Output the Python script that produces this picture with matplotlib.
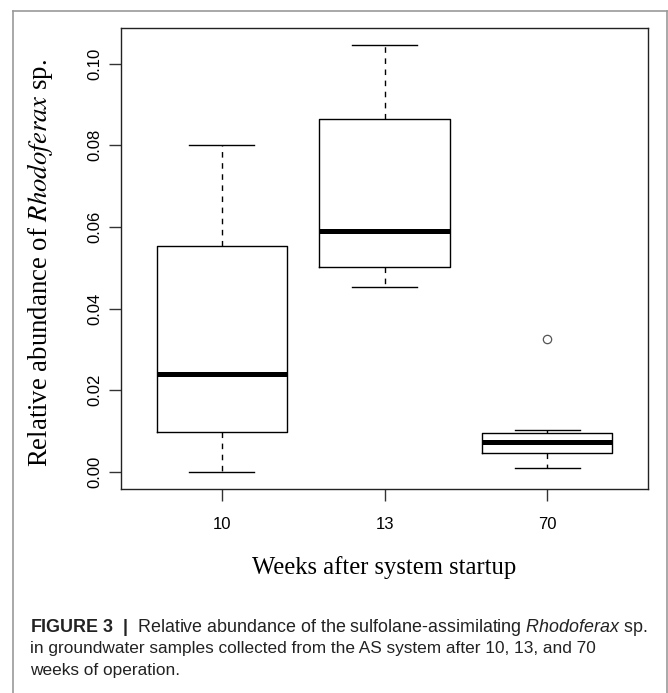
import matplotlib
matplotlib.use("Agg")
import matplotlib.pyplot as plt
from matplotlib.lines import Line2D

# box statistics
weeks = ["10", "13", "70"]
whislo = [0.0000, 0.0453, 0.0010]
q1 = [0.0098, 0.0502, 0.0046]
med = [0.0240, 0.0589, 0.0073]
q3 = [0.0553, 0.0863, 0.0094]
whishi = [0.0800, 0.1045, 0.0103]
fliers = [[], [], [0.0326]]

yticks = [0.00, 0.02, 0.04, 0.06, 0.08, 0.10]

cap_font = "Liberation Sans"
plt.rcParams["mathtext.it"] = cap_font + ":italic"
plt.rcParams["mathtext.bf"] = cap_font + ":bold"
plt.rcParams["mathtext.rm"] = cap_font

W, H = 668, 693
fig = plt.figure(figsize=(W / 100, H / 100), dpi=100)
ax = fig.add_axes([121 / W, 1 - 489 / H, (648 - 121) / W, (489 - 28) / H])

stats = []
for i in range(len(weeks)):
    stats.append({"whislo": whislo[i], "q1": q1[i], "med": med[i], "q3": q3[i],
                  "whishi": whishi[i], "fliers": fliers[i], "label": weeks[i]})

ax.bxp(stats, positions=[1, 2, 3], widths=0.8, showfliers=True,
       boxprops=dict(color="black", linewidth=1.0),
       medianprops=dict(color="black", linewidth=3.6, solid_capstyle="butt"),
       whiskerprops=dict(color="black", linewidth=1.0, linestyle=(0, (4, 4))),
       capprops=dict(color="black", linewidth=1.0),
       capwidths=0.4,
       flierprops=dict(marker="o", markersize=6, markerfacecolor="none",
                       markeredgecolor="#555555", markeredgewidth=0.9))

ax.set_xlim(0.38, 3.62)
ax.set_ylim(-0.0042, 0.1087)
ax.set_yticks(yticks)
ax.set_yticklabels(["%.2f" % v for v in yticks], rotation=90, va="center",
                   family="Liberation Sans", fontsize=12)
ax.set_xticks([1, 2, 3])
ax.set_xticklabels(weeks, family="Liberation Sans", fontsize=12)
ax.tick_params(axis="both", length=8.6, width=1.0, color="#333333")
ax.tick_params(axis="x", pad=11.5)
ax.tick_params(axis="y", pad=5)
for s in ax.spines.values():
    s.set_linewidth(1.0)
    s.set_color("#222222")

# axis titles (Times-like)
fig.text(384.5 / W, 1 - 568 / H, "Weeks after system startup", ha="center", va="center",
         family="Liberation Serif", fontsize=17.7)
fig.text(40 / W, 1 - 263 / H, r"Relative abundance of $\it{Rhodoferax}$ sp.",
         ha="center", va="center", rotation=90, family="Liberation Serif", fontsize=19.3,
         math_fontfamily="stix")

# outer frame
frame_c = "#9a9a9a"
fig.add_artist(Line2D([13 / W, 13 / W], [0, 1 - 11 / H], transform=fig.transFigure, color=frame_c, lw=1.2))
fig.add_artist(Line2D([13 / W, 667 / W], [1 - 11 / H, 1 - 11 / H], transform=fig.transFigure, color=frame_c, lw=1.2))
fig.add_artist(Line2D([667 / W, 667 / W], [0, 1 - 11 / H], transform=fig.transFigure, color=frame_c, lw=1.2))

# caption
cap_lines = [
    r"$\mathbf{FIGURE\ 3\ \ |}$  Relative abundance of the sulfolane-assimilating $\mathit{Rhodoferax}$ sp.",
    "in groundwater samples collected from the AS system after 10, 13, and 70",
    "weeks of operation.",
]
cap_y = [627, 649, 670]
cap_sizes = [12.9, 12.4, 12.4]
for line, y, fs in zip(cap_lines, cap_y, cap_sizes):
    fig.text(30 / W, 1 - y / H, line, ha="left", va="center", family=cap_font,
             fontsize=fs, color="#222222", math_fontfamily="custom")

fig.savefig("out.png", dpi=100)
